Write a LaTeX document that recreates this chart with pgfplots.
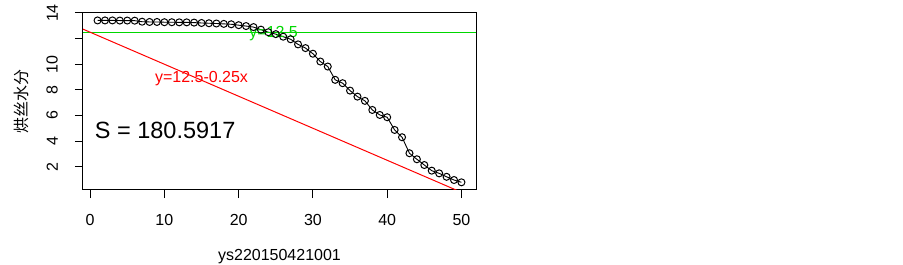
\documentclass[border=0pt]{standalone}
\usepackage{pgfplots}
\pgfplotsset{compat=1.18}
\usepackage{fontspec}
\setmainfont{Liberation Sans}
\newfontfamily\cjk{Noto Sans CJK SC}
\definecolor{rgreen}{RGB}{0,215,0}
\definecolor{rred}{RGB}{255,0,0}
\begin{document}
\begin{tikzpicture}
\useasboundingbox[fill=white] (0,0) rectangle (903pt,265pt);
\begin{axis}[
  at={(83pt,75pt)}, anchor=south west,
  scale only axis, width=393pt, height=177pt,
  xmin=-0.96, xmax=51.96, ymin=0.18, ymax=14,
  axis line style={black, line width=1pt},
  xtick={0,10,20,30,40,50},
  ytick={2,4,6,8,10,12,14},
  yticklabels={2,4,6,8,10,,14},
  xtick pos=bottom, ytick pos=left,
  tick align=outside,
  major tick length=8pt,
  every tick/.style={black, line width=1pt},
  /pgf/number format/assume math mode=true,
  tick label style={font=\fontsize{16pt}{19pt}\selectfont, inner sep=0pt},
  xticklabel style={anchor=north, yshift=-16pt},
  yticklabel style={rotate=90, anchor=south, xshift=0pt},
  yticklabel shift=17pt,
  xlabel={ys220150421001},
  ylabel={\cjk 烘丝水分},
  label style={font=\fontsize{16pt}{19pt}\selectfont},
  xlabel style={at={(axis description cs:0.5,-0.3780)}, anchor=center, inner sep=0pt},
  ylabel style={at={(axis description cs:-0.1578,0.5)}, anchor=center, inner sep=0pt},
  clip=true,
]
\addplot[black, line width=0.9pt, mark=o, mark size=3.5pt, mark options={line width=1pt}] coordinates {
(1,13.42) (2,13.42) (3,13.42) (4,13.41) (5,13.41) (6,13.40)
(7,13.32) (8,13.30) (9,13.30) (10,13.28) (11,13.28) (12,13.27) (13,13.27)
(14,13.25) (15,13.22) (16,13.20) (17,13.18) (18,13.15) (19,13.12) (20,13.05)
(21,12.98) (22,12.90) (23,12.70) (24,12.50) (25,12.35) (26,12.15) (27,11.95)
(28,11.55) (29,11.26) (30,10.82) (31,10.21) (32,9.82) (33,8.78) (34,8.52)
(35,7.94) (36,7.47) (37,7.14) (38,6.43) (39,6.04) (40,5.86) (41,4.87)
(42,4.30) (43,3.05) (44,2.58) (45,2.13) (46,1.69) (47,1.48) (48,1.21)
(49,0.96) (50,0.78)
};
\addplot[rgreen, line width=1.4pt] coordinates {(-0.96,12.5) (51.96,12.5)};
\addplot[rred, line width=1pt] coordinates {(-0.96,12.74) (51.96,-0.49)};
\node[text=rgreen, font=\fontsize{16pt}{19pt}\selectfont, inner sep=0pt] at (axis cs:24.7,12.38) {y=12.5};
\node[text=rred, font=\fontsize{16pt}{19pt}\selectfont, inner sep=0pt] at (axis cs:15,8.86) {y=12.5-0.25x};
\node[text=black, font=\fontsize{23.5pt}{28pt}\selectfont, inner sep=0pt] at (axis cs:10.1,4.87) {S = 180.5917};
\end{axis}
\end{tikzpicture}
\end{document}
